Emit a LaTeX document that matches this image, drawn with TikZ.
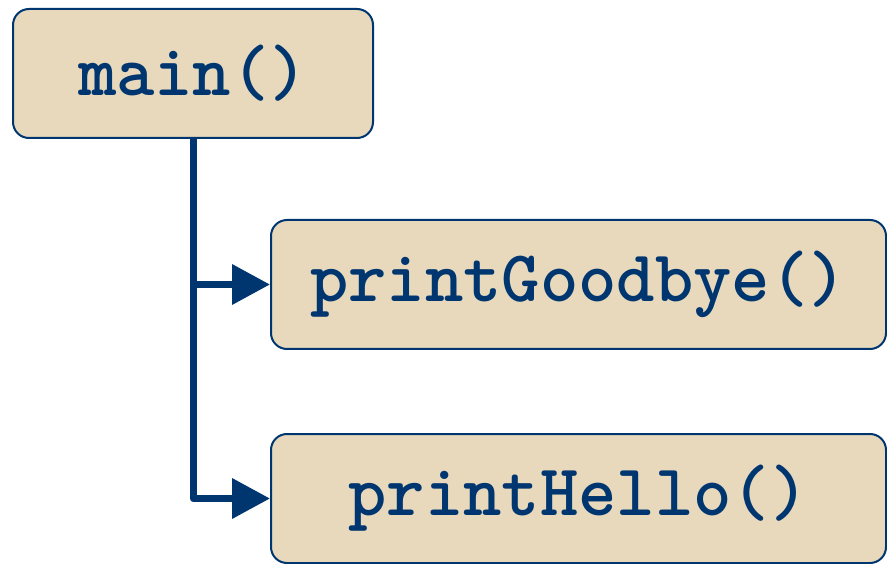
\documentclass[tikz,border=0pt]{standalone}
\usepackage{fontspec}
\usetikzlibrary{arrows.meta}
\definecolor{navy}{HTML}{003670}
\definecolor{tan}{HTML}{E8D9BD}
\tikzset{
  fnbox/.style={draw=navy, line width=2pt, fill=tan, rounded corners=16pt,
    minimum height=129pt, inner sep=0pt, text=navy,
    font=\ttfamily\bfseries\fontsize{73}{73}\selectfont},
  conn/.style={draw=navy, line width=7pt, line join=round},
  tip/.style={-{Triangle[length=38pt,width=39pt]}}
}
\begin{document}
\begin{tikzpicture}[x=1pt,y=-1pt]
\useasboundingbox (0,0) rectangle (887,564);
\node[fnbox, minimum width=360pt] (main) at (193,73.5) {main()};
\node[fnbox, minimum width=615pt] (bye) at (578.5,284.5) {printGoodbye()};
\node[fnbox, minimum width=615pt] (hello) at (578.5,498.5) {printHello()};
\draw[conn, tip] (main.south) |- (hello.west);
\coordinate (branch) at (main.south |- bye.west);
\draw[conn, tip] (branch) -- (bye.west);
\end{tikzpicture}
\end{document}
